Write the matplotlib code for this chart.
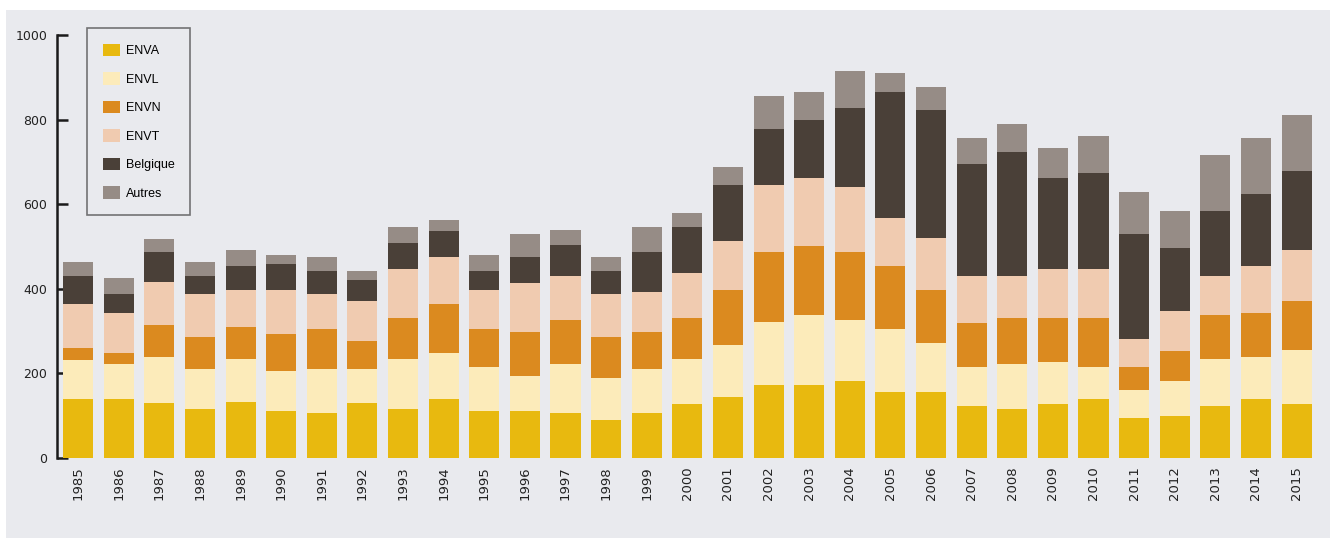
import numpy as np
import matplotlib
matplotlib.use('Agg')
import matplotlib.pyplot as plt
from matplotlib.patches import Rectangle, Patch

# Données
annees = [str(a) for a in range(1985, 2016)]
enva = [139, 139, 129, 117, 133, 111, 106, 129, 117, 139, 111, 111, 106, 89, 106, 128,
        144, 172, 172, 183, 155, 155, 122, 117, 128, 139, 95, 100, 122, 139, 128]
envl = [93, 83, 109, 93, 101, 94, 104, 81, 117, 110, 105, 84, 116, 100, 104, 106,
        122, 150, 166, 144, 150, 116, 94, 105, 99, 77, 66, 83, 112, 99, 127]
envn = [28, 27, 77, 77, 75, 88, 95, 66, 97, 115, 89, 103, 104, 98, 88, 97,
        132, 164, 164, 159, 148, 127, 104, 109, 104, 115, 55, 71, 103, 104, 115]
envt = [104, 93, 100, 100, 89, 105, 82, 94, 116, 111, 93, 116, 105, 100, 94, 106,
        116, 159, 160, 154, 115, 121, 111, 100, 116, 116, 66, 94, 94, 111, 122]
belgique = [67, 45, 71, 44, 55, 60, 54, 50, 61, 61, 43, 61, 72, 54, 94, 109,
            131, 132, 137, 188, 297, 303, 265, 292, 215, 227, 247, 148, 154, 171, 186]
autres = [32, 38, 32, 32, 38, 22, 34, 21, 38, 27, 39, 54, 37, 34, 60, 33,
          44, 78, 66, 87, 45, 54, 60, 66, 72, 87, 101, 89, 132, 132, 132]

series = [enva, envl, envn, envt, belgique, autres]
noms = ['ENVA', 'ENVL', 'ENVN', 'ENVT', 'Belgique', 'Autres']
couleurs = ['#E8B90F', '#FCEBBA', '#DB8A1F', '#F0CBB0', '#4A4038', '#968C86']
fond = '#E9EAEE'

fig = plt.figure(figsize=(13.35, 5.38), dpi=100, facecolor='white')
# Fond gris clair du cadre (derrière les axes)
fig.patches.append(Rectangle((6 / 1335, 0), 1324 / 1335, 528 / 538,
                             transform=fig.transFigure, facecolor=fond,
                             edgecolor='none', zorder=-10))

ax = fig.add_axes([57 / 1335, 80 / 538, 1268 / 1335, 423 / 538])
ax.set_facecolor('none')

x = np.arange(len(annees))
bas = np.zeros(len(annees))
for vals, nom, c in zip(series, noms, couleurs):
    ax.bar(x, vals, bottom=bas, width=0.74, color=c, label=nom, zorder=2)
    bas += np.array(vals)

ax.set_xlim(-0.52, 30.7)
ax.set_ylim(0, 1000)
ax.set_yticks([0, 200, 400, 600, 800, 1000])
ax.set_xticks(x)
ax.set_xticklabels(annees, rotation=90, fontsize=9.5, color='#222222')

for s in ['top', 'right', 'bottom']:
    ax.spines[s].set_visible(False)
ax.spines['left'].set_linewidth(1.8)
ax.spines['left'].set_color('#1a1a1a')
ax.tick_params(axis='y', direction='in', length=8, width=1.8, color='#1a1a1a',
               labelsize=9, labelcolor='#222222', pad=7)
ax.tick_params(axis='x', length=0, pad=6)

handles = [Patch(facecolor=c, edgecolor='none') for c in couleurs]
leg = fig.legend(handles, noms, loc='upper left',
                 bbox_to_anchor=(87 / 1335, 1 - 28 / 538),
                 bbox_transform=fig.transFigure, borderaxespad=0,
                 frameon=True, fancybox=False,
                 handlelength=1.35, handleheight=1.2, labelspacing=1.19,
                 handletextpad=0.5, borderpad=1.25,
                 prop={'family': ['Liberation Sans', 'DejaVu Sans'], 'size': 9})
leg.get_frame().set_edgecolor('#555555')
leg.get_frame().set_linewidth(1.2)
leg.get_frame().set_facecolor(fond)

plt.savefig('out.png', dpi=100, facecolor=fig.get_facecolor())
plt.close()
